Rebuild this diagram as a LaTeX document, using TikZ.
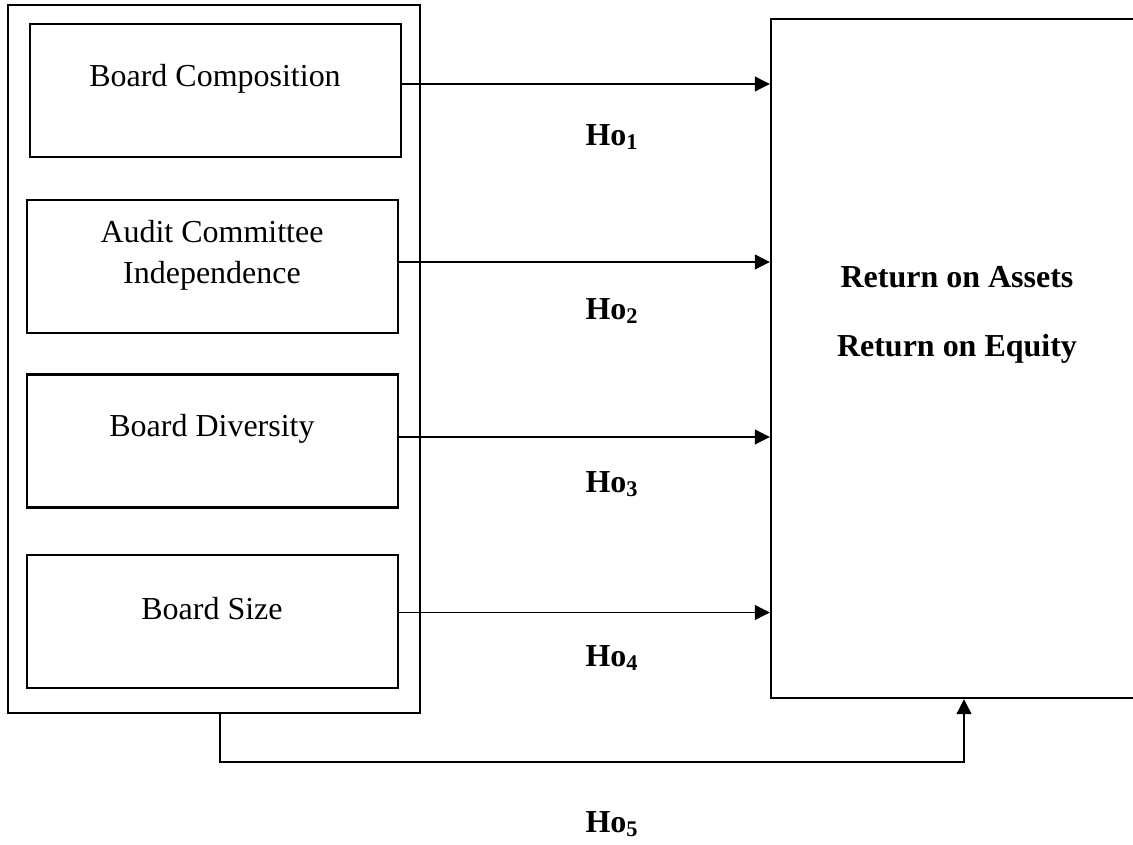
\documentclass[tikz,border=0pt]{standalone}
\usepackage{fontspec}
\setmainfont{Liberation Serif}
\usetikzlibrary{arrows.meta}

\tikzset{
  box/.style={draw, line width=1.4pt, minimum width=7.42cm, minimum height=2.66cm, inner sep=0pt},
  txt/.style={font=\fontsize{18.2}{23.3}\selectfont, align=center, inner sep=0pt},
  perftxt/.style={font=\fontsize{18.2}{39.2}\selectfont\bfseries, align=center, inner sep=0pt},
  hyp/.style={font=\fontsize{18.2}{22}\selectfont\bfseries, inner sep=0pt},
  arr/.style={-{Triangle[length=0.3cm,width=0.3cm]}, line width=0.7pt},
}

\begin{document}
\begin{tikzpicture}
\useasboundingbox (0,0) rectangle (22.66,16.88);

% independent variables
\node[box, minimum width=8.24cm, minimum height=14.16cm] (ind) at (4.28,9.7) {};
\node[box] (bc) at (4.31,15.07) {};
\node[box] (aci) at (4.25,11.55) {};
\node[box] (bd) at (4.25,8.06) {};
\node[box] (bs) at (4.25,4.45) {};
\node[txt] (bctxt) at (4.3,15.3) {Board Composition};
\node[txt] (acitxt) at (4.24,11.77) {Audit Committee\\Independence};
\node[txt] (bdtxt) at (4.24,8.3) {Board Diversity};
\node[txt] (bstxt) at (4.24,4.7) {Board Size};

% dependent variable
\node[box, minimum width=7.3cm, minimum height=13.58cm] (perf) at (19.07,9.71) {};
\node[perftxt] (perflbl) at (19.14,10.59) {Return on Assets\\Return on Equity};

% hypotheses
\foreach \n/\s in {bc/0.13, aci/0.09, bd/0.08, bs/0.18}
  \draw[arr] ([yshift=\s cm]\n.east) coordinate (t) -- (t -| perf.west);
\node[hyp] (h1) at (12.24,14.14) {Ho\textsubscript{1}};
\node[hyp] (h2) at (12.24,10.66) {Ho\textsubscript{2}};
\node[hyp] (h3) at (12.24,7.2) {Ho\textsubscript{3}};
\node[hyp] (h4) at (12.24,3.72) {Ho\textsubscript{4}};

\coordinate (h5c) at (19.28,1.64);
\draw[arr] ([xshift=0.12cm]ind.south) |- (h5c) -- (h5c |- perf.south);
\node[hyp] (h5) at (12.24,0.4) {Ho\textsubscript{5}};
\end{tikzpicture}
\end{document}
